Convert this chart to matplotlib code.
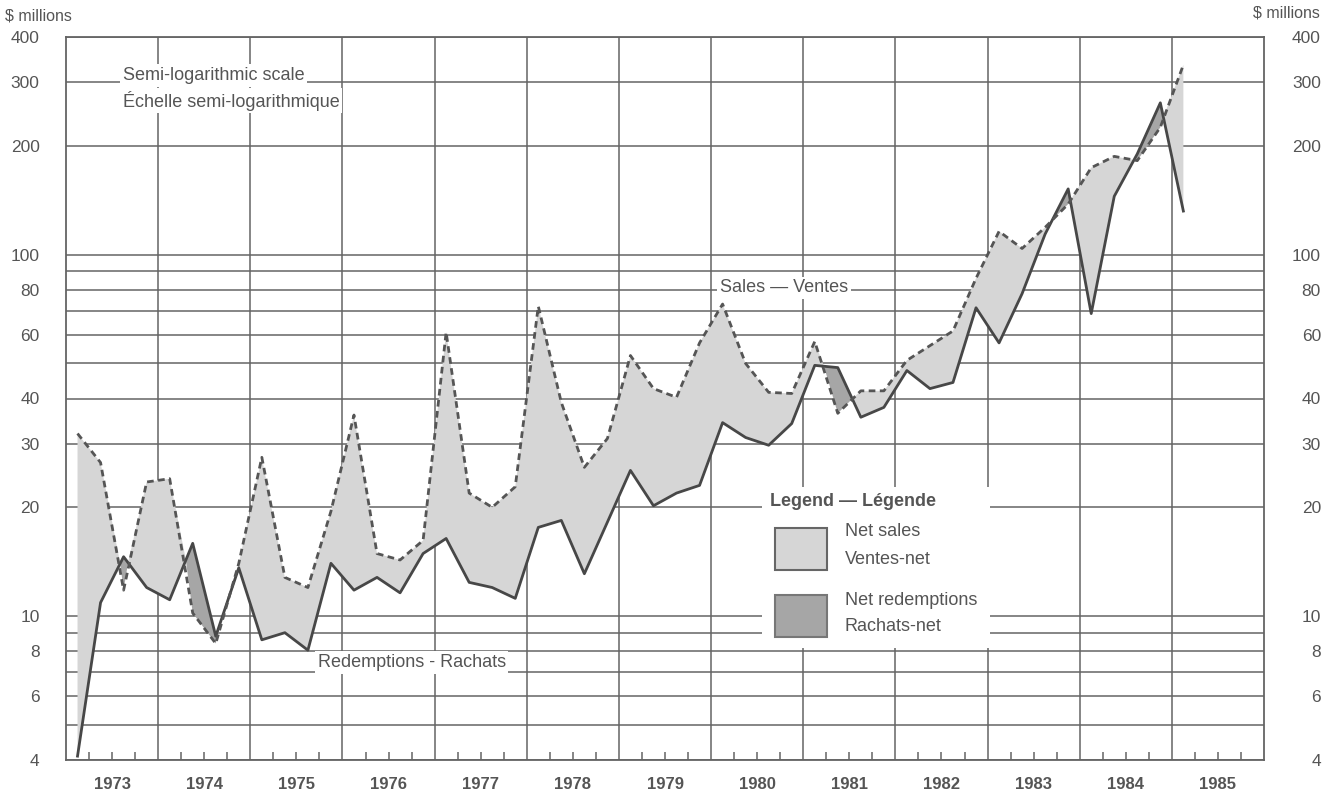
import numpy as np
import matplotlib.pyplot as plt
from matplotlib.patches import Rectangle
from matplotlib.ticker import FixedLocator, NullFormatter

plt.rcParams['font.family'] = ['Liberation Sans', 'DejaVu Sans']

# quarterly values, $ millions, 1973 Q1 .. 1985 Q1
sales = [32.0, 26.6, 11.8, 23.5,
         24.0, 10.2, 8.4, 14.0,
         27.5, 12.8, 12.0, 19.5,
         36.0, 14.9, 14.3, 16.2,
         61.0, 21.9, 20.0, 22.8,
         72.0, 39.0, 25.8, 31.0,
         52.6, 42.6, 40.3, 57.0,
         73.0, 50.0, 41.6, 41.3,
         57.5, 36.4, 42.0, 42.0,
         51.0, 56.0, 61.5, 86.0,
         116.0, 104.0, 119.0, 138.0,
         174.0, 187.0, 182.0, 225.0,
         335.0]
redemptions = [4.1, 10.9, 14.6, 12.0,
               11.1, 15.9, 8.8, 13.6,
               8.6, 9.0, 8.05, 14.0,
               11.8, 12.8, 11.6, 14.9,
               16.4, 12.4, 12.0, 11.2,
               17.6, 18.4, 13.1, 18.2,
               25.3, 20.2, 21.9, 23.0,
               34.3, 31.2, 29.7, 34.1,
               49.4, 48.7, 35.5, 37.8,
               47.8, 42.6, 44.3, 71.3,
               57.0, 78.0, 114.0, 152.0,
               68.7, 145.0, 190.0, 263.0,
               132.0]
first_year = 1973
years = list(range(1973, 1986))
ytick_vals = [4, 6, 8, 10, 20, 30, 40, 60, 80, 100, 200, 300, 400]
yminor_vals = [5, 7, 9, 50, 70, 90]

txt = '#555555'
gridc = '#646464'
light = '#d6d6d6'
dark = '#a6a6a6'

sales = np.array(sales)
redemptions = np.array(redemptions)
x = first_year + (np.arange(len(sales)) + 0.5) / 4

fig = plt.figure(figsize=(13.4, 7.95), dpi=100)
ax = fig.add_axes([66/1340, 1-760/795, 1198/1340, 723/795])

ax.set_yscale('log')
ax.set_ylim(4, 400)
ax.set_xlim(years[0], years[-1] + 1)

# shading between the two series
ax.fill_between(x, sales, redemptions, where=sales >= redemptions, interpolate=True,
                color=light, lw=0, zorder=2)
ax.fill_between(x, sales, redemptions, where=sales < redemptions, interpolate=True,
                color=dark, lw=0, zorder=2)
ax.plot(x, redemptions, color='#474747', lw=2.0, zorder=4)
ax.plot(x, sales, color='#555555', lw=2.0, ls=(0, (2.4, 1.6)), zorder=4)

# grid
ax.yaxis.set_major_locator(FixedLocator(ytick_vals))
ax.yaxis.set_minor_locator(FixedLocator(yminor_vals))
ax.yaxis.set_major_formatter(plt.FixedFormatter([str(v) for v in ytick_vals]))
ax.yaxis.set_minor_formatter(NullFormatter())
ax.grid(True, axis='y', which='both', color=gridc, lw=1.1, zorder=1)
for yr in years[1:]:
    ax.axvline(yr, color=gridc, lw=1.1, zorder=1)

ax.set_xticks([yr + 0.5 for yr in years])
ax.set_xticklabels([str(yr) for yr in years], fontweight='bold')
ax.set_xticks([yr + q for yr in years for q in (0.25, 0.75)], minor=True)
ax.tick_params(axis='x', which='both', direction='in', length=6, width=1.1,
               color=gridc, labelsize=12, labelcolor=txt, pad=12)
ax.tick_params(axis='y', which='both', length=0, labelsize=12.5, labelcolor=txt, pad=19)
for s in ax.spines.values():
    s.set_color(gridc)
    s.set_linewidth(1.3)

ax2 = ax.twinx()
ax2.set_yscale('log')
ax2.set_ylim(4, 400)
ax2.yaxis.set_major_locator(FixedLocator(ytick_vals))
ax2.yaxis.set_minor_locator(FixedLocator(yminor_vals))
ax2.yaxis.set_major_formatter(plt.FixedFormatter([str(v) for v in ytick_vals]))
ax2.yaxis.set_minor_formatter(NullFormatter())
ax2.tick_params(axis='y', which='both', length=0, labelsize=12.5, labelcolor=txt, pad=41)
for lab in ax2.get_yticklabels():
    lab.set_horizontalalignment('right')
for s in ax2.spines.values():
    s.set_visible(False)

fig.text(5/1340, 1-16/795, '$ millions', fontsize=11.5, color=txt, va='center')
fig.text(1320/1340, 1-13/795, '$ millions', fontsize=11.5, color=txt, va='center', ha='right')

wb = dict(facecolor='white', edgecolor='none', pad=2)
ax.text(0.0476, 0.947, 'Semi-logarithmic scale', transform=ax.transAxes, fontsize=13,
        color=txt, va='center', bbox=wb, zorder=6)
ax.text(0.0476, 0.912, 'Échelle semi-logarithmique', transform=ax.transAxes, fontsize=13,
        color=txt, va='center', bbox=wb, zorder=6)
ax.text(0.546, 0.653, 'Sales — Ventes', transform=ax.transAxes, fontsize=13,
        color=txt, va='center', bbox=wb, zorder=6)
ax.text(0.21, 0.135, 'Redemptions - Rachats', transform=ax.transAxes, fontsize=13,
        color=txt, va='center', bbox=wb, zorder=6)

# hand-drawn legend
ax.add_patch(Rectangle((0.581, 0.155), 0.19, 0.222, transform=ax.transAxes,
                       facecolor='white', edgecolor='none', zorder=5))
ax.text(0.5876, 0.357, 'Legend — Légende', transform=ax.transAxes, fontsize=13,
        fontweight='bold', color=txt, va='center', zorder=6)
ax.add_patch(Rectangle((0.5918, 0.2628), 0.0434, 0.0581, transform=ax.transAxes,
                       facecolor=light, edgecolor='#666666', lw=1.5, zorder=6))
ax.add_patch(Rectangle((0.5918, 0.170), 0.0434, 0.0581, transform=ax.transAxes,
                       facecolor=dark, edgecolor='#777777', lw=1.5, zorder=6))
for fy, s in [(0.3154, 'Net sales'), (0.278, 'Ventes-net'),
              (0.2213, 'Net redemptions'), (0.184, 'Rachats-net')]:
    ax.text(0.650, fy, s, transform=ax.transAxes, fontsize=13, color=txt,
            va='center', zorder=6)

fig.savefig('out.png', dpi=100, facecolor='white')
